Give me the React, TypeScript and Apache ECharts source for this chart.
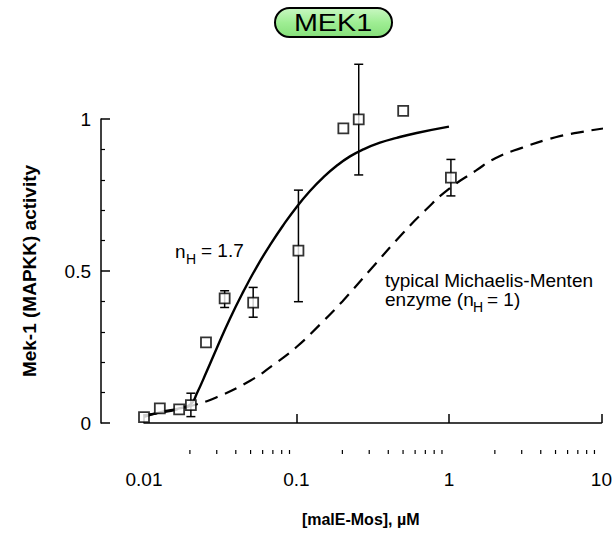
import React, { useEffect, useRef } from "react";
import * as echarts from "echarts";

// Measured points (concentration in µM, relative activity)
const pointX = [0.01, 0.0127, 0.017, 0.0203, 0.0255, 0.0338, 0.052, 0.103, 0.203, 0.256, 0.501, 1.03];
const pointY = [0.019, 0.048, 0.045, 0.059, 0.265, 0.41, 0.396, 0.567, 0.969, 0.999, 1.027, 0.807];

// Error bars
const errX = [0.0203, 0.0338, 0.052, 0.103, 0.256, 1.03];
const errLow = [0.021, 0.38, 0.348, 0.399, 0.816, 0.747];
const errHigh = [0.098, 0.435, 0.446, 0.766, 1.18, 0.867];

// Solid curve (nH = 1.7)
const hillX = [0.01, 0.0127, 0.017, 0.0203, 0.0222, 0.0258, 0.03, 0.0366, 0.0448, 0.0548, 0.067, 0.082, 0.1, 0.1226, 0.15, 0.1834, 0.2244, 0.2742, 0.3528, 0.454, 0.614, 1.0];
const hillY = [0.02, 0.035, 0.048, 0.062, 0.097, 0.17, 0.246, 0.343, 0.432, 0.513, 0.585, 0.651, 0.71, 0.763, 0.808, 0.846, 0.877, 0.9, 0.922, 0.938, 0.954, 0.975];

// Dashed curve (typical Michaelis-Menten, nH = 1)
const mmX = [0.01, 0.015, 0.02, 0.03, 0.05, 0.07, 0.1, 0.15, 0.2, 0.3, 0.5, 0.7, 1, 1.5, 2, 3, 5, 7, 10, 11.5];
const mmY = [0.025, 0.04, 0.055, 0.085, 0.14, 0.19, 0.25, 0.335, 0.4, 0.5, 0.625, 0.7, 0.77, 0.83, 0.87, 0.905, 0.94, 0.955, 0.968, 0.972];

// Axis ticks
const xMin = 0.01;
const xMax = 10;
const xMinorTicks = [0.02, 0.03, 0.04, 0.05, 0.06, 0.07, 0.08, 0.09, 0.2, 0.3, 0.4, 0.5, 0.6, 0.7, 0.8, 0.9, 2, 3, 4, 5, 6, 7, 8, 9];
const yMin = 0;
const yMax = 1;
const yInterval = 0.5;

const FONT = "'Liberation Sans', Arial, Helvetica, sans-serif";

export default function App() {
  const ref = useRef<HTMLDivElement>(null);

  useEffect(() => {
    document.body.style.margin = "0";
    const chart = echarts.init(ref.current!, null, { renderer: "svg" });
    const X_OFFSET = 31;

    const option: any = {
      animation: false,
      backgroundColor: "#ffffff",
      textStyle: { fontFamily: FONT, color: "#000" },
      grid: { left: 144, right: 13.5, top: 119, bottom: 113 },
      xAxis: {
        type: "log",
        logBase: 10,
        min: xMin,
        max: xMax,
        offset: X_OFFSET,
        name: "[malE-Mos], \u00b5M",
        nameLocation: "middle",
        nameGap: 57,
        nameTextStyle: {
          fontFamily: FONT,
          fontWeight: "bold",
          fontSize: 16,
          color: "#000",
          padding: [0, 24, 0, 0],
        },
        axisLine: { show: true, lineStyle: { color: "#000", width: 1.5 } },
        axisTick: { show: true, inside: true, length: 9, lineStyle: { color: "#000", width: 1.5 } },
        minorTick: { show: false },
        axisLabel: {
          fontFamily: FONT,
          fontSize: 19,
          color: "#000",
          margin: 16,
          formatter: (v: number) => String(v),
        },
        splitLine: { show: false },
      },
      yAxis: {
        type: "value",
        min: yMin,
        max: yMax,
        interval: yInterval,
        offset: 43,
        name: "Mek-1 (MAPKK) activity",
        nameLocation: "middle",
        nameGap: 62,
        nameRotate: 90,
        nameTextStyle: { fontFamily: FONT, fontWeight: "bold", fontSize: 19, color: "#000" },
        axisLine: { show: true, lineStyle: { color: "#000", width: 1.5 } },
        axisTick: { show: true, inside: true, length: 9, lineStyle: { color: "#000", width: 1.5 } },
        minorTick: { show: true, splitNumber: 5, length: 4, lineStyle: { color: "#000", width: 1.2 } },
        axisLabel: {
          fontFamily: FONT,
          fontSize: 19,
          color: "#000",
          margin: 10,
          formatter: (v: number) => String(v),
        },
        splitLine: { show: false },
      },
      series: [
        {
          type: "custom",
          name: "minor ticks",
          silent: true,
          clip: false,
          data: xMinorTicks.map((v) => [v, 0]),
          renderItem: (params: any, api: any) => {
            const p = api.coord([api.value(0), 0]);
            const y = p[1] + X_OFFSET;
            return {
              type: "line",
              shape: { x1: p[0], y1: y, x2: p[0], y2: y - 4 },
              style: { stroke: "#000", lineWidth: 1.2 },
            };
          },
        },
        {
          type: "line",
          name: "nH = 1.7",
          data: hillX.map((x, i) => [x, hillY[i]]),
          showSymbol: false,
          symbol: "none",
          smooth: 0.5,
          clip: false,
          lineStyle: { color: "#000", width: 2.4 },
          z: 2,
        },
        {
          type: "line",
          name: "Michaelis-Menten",
          data: mmX.map((x, i) => [x, mmY[i]]),
          showSymbol: false,
          symbol: "none",
          smooth: 0.5,
          clip: false,
          lineStyle: { color: "#000", width: 2.2, type: [13, 8] },
          z: 2,
        },
        {
          type: "custom",
          name: "error bars",
          clip: false,
          data: errX.map((x, i) => [x, errLow[i], errHigh[i]]),
          encode: { x: 0, y: [1, 2] },
          renderItem: (params: any, api: any) => {
            const x = api.value(0);
            const lo = api.coord([x, api.value(1)]);
            const hi = api.coord([x, api.value(2)]);
            const w = 4.5;
            const st = { stroke: "#000", lineWidth: 1.5 };
            return {
              type: "group",
              children: [
                { type: "line", shape: { x1: lo[0], y1: lo[1], x2: hi[0], y2: hi[1] }, style: st },
                { type: "line", shape: { x1: lo[0] - w, y1: lo[1], x2: lo[0] + w, y2: lo[1] }, style: st },
                { type: "line", shape: { x1: hi[0] - w, y1: hi[1], x2: hi[0] + w, y2: hi[1] }, style: st },
              ],
            };
          },
          z: 3,
        },
        {
          type: "scatter",
          name: "data",
          data: pointX.map((x, i) => [x, pointY[i]]),
          symbol: "rect",
          symbolSize: 10,
          clip: false,
          itemStyle: { color: "#fff", borderColor: "#000", borderWidth: 1.8 },
          z: 4,
        },
      ],
      graphic: [
        {
          type: "rect",
          shape: { x: 275, y: 8, width: 117, height: 29, r: 14.5 },
          style: {
            fill: new echarts.graphic.LinearGradient(0, 0, 0, 1, [
              { offset: 0, color: "#c9f7c2" },
              { offset: 0.5, color: "#9fee94" },
              { offset: 1, color: "#86df7a" },
            ]),
            stroke: "#000",
            lineWidth: 2,
          },
        },
        {
          type: "text",
          x: 333,
          y: 23,
          scaleX: 1.25,
          style: {
            text: "MEK1",
            fontFamily: FONT,
            fontSize: 23,
            fill: "#000",
            align: "center",
            verticalAlign: "middle",
          },
        },
        {
          type: "text",
          x: 175,
          y: 251,
          style: { text: "n", fontFamily: FONT, fontSize: 19, fill: "#000", align: "left", verticalAlign: "middle" },
        },
        {
          type: "text",
          x: 186,
          y: 259,
          style: { text: "H", fontFamily: FONT, fontSize: 14, fill: "#000", align: "left", verticalAlign: "middle" },
        },
        {
          type: "text",
          x: 201,
          y: 250,
          style: { text: "= 1.7", fontFamily: FONT, fontSize: 19, fill: "#000", align: "left", verticalAlign: "middle" },
        },
        {
          type: "text",
          x: 385,
          y: 280,
          style: {
            text: "typical Michaelis-Menten",
            fontFamily: FONT,
            fontSize: 19,
            fill: "#000",
            align: "left",
            verticalAlign: "middle",
          },
        },
        {
          type: "text",
          x: 385,
          y: 299,
          style: { text: "enzyme (n", fontFamily: FONT, fontSize: 19, fill: "#000", align: "left", verticalAlign: "middle" },
        },
        {
          type: "text",
          x: 473,
          y: 307,
          style: { text: "H", fontFamily: FONT, fontSize: 14, fill: "#000", align: "left", verticalAlign: "middle" },
        },
        {
          type: "text",
          x: 487,
          y: 299,
          style: { text: "= 1)", fontFamily: FONT, fontSize: 19, fill: "#000", align: "left", verticalAlign: "middle" },
        },
      ],
    };

    chart.setOption(option);
    return () => chart.dispose();
  }, []);

  return <div ref={ref} style={{ width: 615, height: 536 }} />;
}
